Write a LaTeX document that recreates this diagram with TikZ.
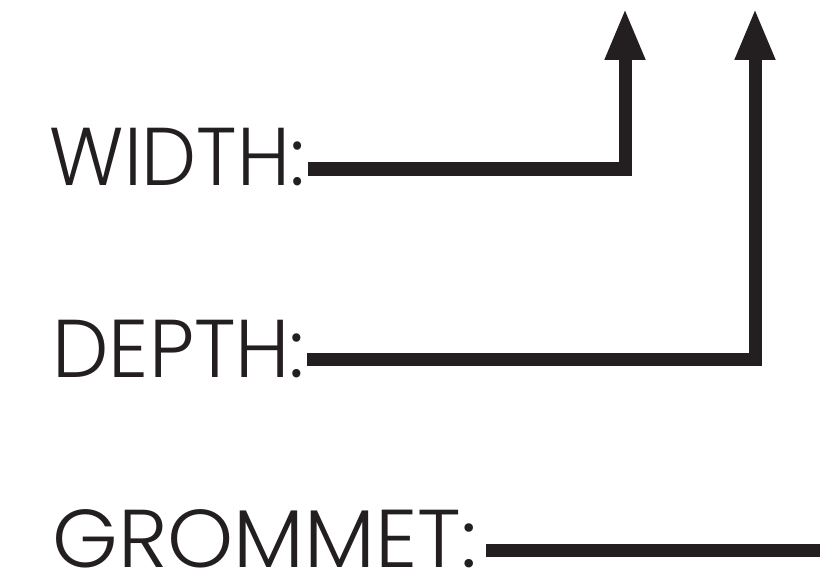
\documentclass[tikz,border=0pt]{standalone}
\usepackage{fontspec}
\usepackage{tikz}
\usetikzlibrary{arrows.meta,positioning,calc}
\newfontfamily\lblfont{Poppins Light}
\definecolor{inkblack}{RGB}{35,31,32}

\begin{document}
\begin{tikzpicture}[
    x=0.03cm, y=0.03cm,
    lbl/.style={inner sep=0pt, text=inkblack, font=\lblfont\fontsize{70}{80}\selectfont},
    arr/.style={line width=13*0.03cm, draw=inkblack, -{Triangle[width=37*0.03cm, length=52*0.03cm]}},
    bar/.style={line width=13*0.03cm, draw=inkblack}
]
    \useasboundingbox (0,0) rectangle (820,577);

    % Labels
    \node[lbl, anchor=base east] (width) at (305,392) {\scalebox{0.95}[1]{WIDTH:}};
    \node[lbl, anchor=base east] (depth) at (305,200) {\scalebox{0.975}[1]{DEPTH:}};
    \node[lbl, anchor=base east] (grommet) at (477,10) {\scalebox{1.025}[1]{GROMMET:}};

    % Free ends
    \coordinate (widthtip) at (625,569);
    \coordinate (depthtip) at (755,569);
    \coordinate (grommetend) at (820,27);

    % Arrows
    \draw[arr] ($(width.base east)+(3,16)$) -| (widthtip);
    \draw[arr] ($(depth.base east)+(2,18)$) -| (depthtip);
    \draw[bar] ($(grommet.base east)+(9,17)$) -- (grommetend);
\end{tikzpicture}
\end{document}
